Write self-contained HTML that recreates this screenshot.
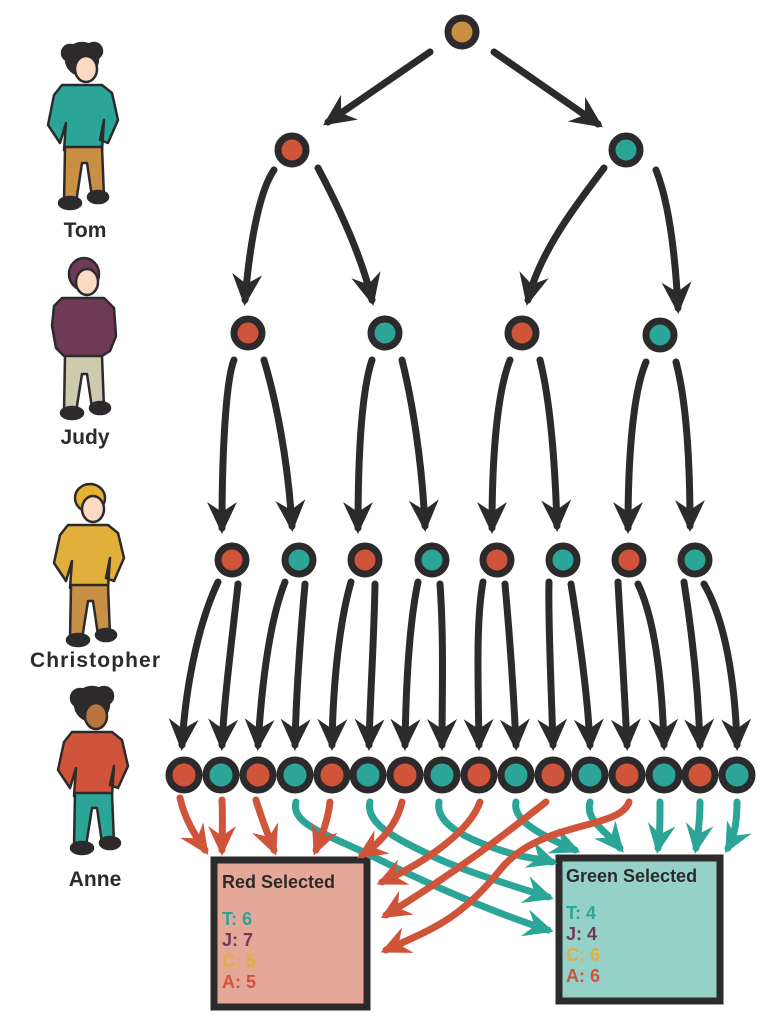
<!DOCTYPE html>
<html><head><meta charset="utf-8"><style>html,body{margin:0;padding:0;background:#fff}svg{display:block}</style></head>
<body>
<svg width="768" height="1024" viewBox="0 0 768 1024" xmlns="http://www.w3.org/2000/svg">
<defs>
<marker id="ad" markerUnits="userSpaceOnUse" markerWidth="38" markerHeight="36" viewBox="-2 -18 38 36" refX="26" refY="0" orient="auto"><path d="M0,-15 L32,0 L0,15 L10,0 Z" fill="#2d2a2b"/></marker>
<marker id="ar" markerUnits="userSpaceOnUse" markerWidth="38" markerHeight="36" viewBox="-2 -18 38 36" refX="24" refY="0" orient="auto"><path d="M0,-14 L30,0 L0,14 L10,0 Z" fill="#d0543a"/></marker>
<marker id="at" markerUnits="userSpaceOnUse" markerWidth="38" markerHeight="36" viewBox="-2 -18 38 36" refX="24" refY="0" orient="auto"><path d="M0,-14 L30,0 L0,14 L10,0 Z" fill="#2aa597"/></marker>
</defs>

<g fill="none" stroke="#2d2a2b" stroke-width="7" stroke-linecap="round" marker-end="url(#ad)">
<path d="M430,52 L328,122"/><path d="M494,52 L598,124"/>
<path d="M274,170 C260,190 250,240 245,300"/><path d="M318,168 C335,200 360,250 372,300"/>
<path d="M604,168 C580,200 540,250 528,300"/><path d="M656,170 C668,200 675,250 678,308"/>
<path d="M234,360 C226,380 222,450 222,528"/><path d="M264,360 C276,400 288,460 292,526"/>
<path d="M372,360 C362,390 358,450 358,528"/><path d="M402,360 C412,400 422,460 425,526"/>
<path d="M510,360 C498,390 492,450 492,528"/><path d="M540,360 C550,400 555,460 557,526"/>
<path d="M646,362 C634,390 628,450 628,528"/><path d="M676,362 C686,400 690,460 690,526"/>
<path d="M218,582 C200,620 186,680 182,745"/><path d="M238,584 C232,640 224,700 222,745"/>
<path d="M285,582 C270,620 262,680 258,745"/><path d="M305,584 C300,640 296,700 295,745"/>
<path d="M351,582 C340,620 333,680 332,745"/><path d="M375,584 C374,640 370,700 369,745"/>
<path d="M418,582 C410,620 406,680 405,745"/><path d="M440,584 C444,640 442,700 442,745"/>
<path d="M483,582 C476,620 478,680 479,745"/><path d="M505,584 C510,640 514,700 516,745"/>
<path d="M549,582 C548,620 551,680 553,745"/><path d="M571,584 C580,640 588,700 590,745"/>
<path d="M618,582 C620,620 624,680 627,745"/><path d="M638,584 C655,620 662,680 664,745"/>
<path d="M684,582 C690,620 698,680 700,745"/><path d="M704,584 C725,620 735,680 737,745"/>
</g>

<g stroke="#2d2a2b" stroke-width="7">
<circle cx="462" cy="32" r="14" fill="#c98f45"/>
<circle cx="292" cy="150" r="14" fill="#d0543a"/><circle cx="626" cy="150" r="14" fill="#2aa597"/>
<circle cx="248" cy="333" r="14" fill="#d0543a"/><circle cx="385" cy="333" r="14" fill="#2aa597"/>
<circle cx="522" cy="333" r="14" fill="#d0543a"/><circle cx="660" cy="335" r="14" fill="#2aa597"/>
<circle cx="232" cy="560" r="14" fill="#d0543a"/><circle cx="299" cy="560" r="14" fill="#2aa597"/>
<circle cx="365" cy="560" r="14" fill="#d0543a"/><circle cx="432" cy="560" r="14" fill="#2aa597"/>
<circle cx="497" cy="560" r="14" fill="#d0543a"/><circle cx="563" cy="560" r="14" fill="#2aa597"/>
<circle cx="629" cy="560" r="14" fill="#d0543a"/><circle cx="695" cy="560" r="14" fill="#2aa597"/>
<circle cx="184" cy="775" r="15" fill="#d0543a"/><circle cx="221" cy="775" r="15" fill="#2aa597"/>
<circle cx="258" cy="775" r="15" fill="#d0543a"/><circle cx="295" cy="775" r="15" fill="#2aa597"/>
<circle cx="332" cy="775" r="15" fill="#d0543a"/><circle cx="368" cy="775" r="15" fill="#2aa597"/>
<circle cx="405" cy="775" r="15" fill="#d0543a"/><circle cx="442" cy="775" r="15" fill="#2aa597"/>
<circle cx="479" cy="775" r="15" fill="#d0543a"/><circle cx="516" cy="775" r="15" fill="#2aa597"/>
<circle cx="553" cy="775" r="15" fill="#d0543a"/><circle cx="590" cy="775" r="15" fill="#2aa597"/>
<circle cx="627" cy="775" r="15" fill="#d0543a"/><circle cx="664" cy="775" r="15" fill="#2aa597"/>
<circle cx="700" cy="775" r="15" fill="#d0543a"/><circle cx="737" cy="775" r="15" fill="#2aa597"/>
</g>

<rect x="214" y="860" width="153" height="147" fill="#e5a898" stroke="#2d2a2b" stroke-width="7"/>
<rect x="559" y="858" width="161" height="143" fill="#96d1c9" stroke="#2d2a2b" stroke-width="7"/>
<g font-family="Liberation Sans, sans-serif" font-weight="bold" font-size="18">
<text x="222" y="888" fill="#2d2a2b">Red Selected</text>
<text x="222" y="925" fill="#2aa597">T: 6</text>
<text x="222" y="946" fill="#6e3a58">J: 7</text>
<text x="222" y="967" fill="#e0b03a">C: 5</text>
<text x="222" y="988" fill="#d0543a">A: 5</text>
<text x="566" y="882" fill="#2d2a2b">Green Selected</text>
<text x="566" y="919" fill="#2aa597">T: 4</text>
<text x="566" y="940" fill="#6e3a58">J: 4</text>
<text x="566" y="961" fill="#e0b03a">C: 6</text>
<text x="566" y="982" fill="#d0543a">A: 6</text>
</g>

<g fill="none" stroke-width="7" stroke-linecap="round">
<g stroke="#2aa597" marker-end="url(#at)">
<path d="M296,802 C290,825 330,835 380,860 S500,915 548,930"/>
<path d="M370,802 C365,825 400,840 430,855 S520,888 548,897"/>
<path d="M439,802 C435,825 470,840 500,850 S540,858 552,862"/>
<path d="M516,802 C512,820 540,835 575,850"/>
<path d="M590,802 C585,820 605,830 620,848"/>
<path d="M660,802 C660,820 660,835 658,848"/>
<path d="M700,802 C700,820 698,835 696,848"/>
<path d="M737,802 C737,820 735,835 728,848"/>
</g>
<g stroke="#d0543a" marker-end="url(#ar)">
<path d="M180,798 C185,820 195,835 205,850"/>
<path d="M222,800 C223,820 222,835 222,850"/>
<path d="M256,800 C262,820 268,835 274,850"/>
<path d="M330,802 C328,820 322,835 316,850"/>
<path d="M402,802 C398,820 385,840 362,855"/>
<path d="M480,802 C470,830 430,860 382,882"/>
<path d="M546,802 C510,830 460,870 386,915"/>
<path d="M629,802 C620,830 540,820 500,870 S430,930 386,950"/>
</g>
</g>

<g stroke="#2d2a2b" stroke-width="2.5" stroke-linejoin="round">
<g transform="translate(82,45)">
<circle cx="0" cy="14" r="16" fill="#2d2a2b"/><circle cx="-12" cy="8" r="8" fill="#2d2a2b"/><circle cx="12" cy="6" r="8" fill="#2d2a2b"/>
<ellipse cx="4" cy="24" rx="11" ry="13" fill="#fbd9c4"/>
<path d="M-20,40 L20,40 L30,48 L36,75 L26,98 L18,95 L22,75 L20,105 L-18,105 L-16,78 L-22,98 L-34,80 L-28,50 Z" fill="#2aa597"/>
<path d="M-17,102 L20,102 L22,152 L10,152 L5,118 L0,118 L-6,158 L-18,158 Z" fill="#c98f45"/>
<ellipse cx="-12" cy="158" rx="11" ry="6" fill="#2d2a2b"/><ellipse cx="16" cy="152" rx="10" ry="6" fill="#2d2a2b"/>
</g>
<g transform="translate(82,256)">
<ellipse cx="2" cy="18" rx="15" ry="16" fill="#6e3a58"/>
<ellipse cx="5" cy="26" rx="11" ry="13" fill="#fbd9c4"/>
<path d="M-20,42 L22,42 L32,52 L34,80 L28,95 L20,100 L-18,100 L-26,92 L-30,70 L-28,50 Z" fill="#6e3a58"/>
<path d="M-17,100 L20,100 L22,152 L10,152 L5,118 L0,118 L-6,156 L-18,156 Z" fill="#cdcbae"/>
<ellipse cx="-10" cy="157" rx="11" ry="6" fill="#2d2a2b"/><ellipse cx="18" cy="152" rx="10" ry="6" fill="#2d2a2b"/>
</g>
<g transform="translate(88,483)">
<ellipse cx="2" cy="15" rx="15" ry="14" fill="#e4b232"/>
<ellipse cx="5" cy="26" rx="11" ry="13" fill="#fbd9c4"/>
<path d="M-20,42 L20,42 L30,50 L36,75 L26,98 L18,95 L22,75 L20,105 L-18,105 L-16,78 L-22,98 L-34,80 L-28,52 Z" fill="#e0b03a"/>
<path d="M-17,102 L20,102 L22,152 L10,152 L5,118 L0,118 L-6,156 L-18,156 Z" fill="#c98f45"/>
<ellipse cx="-10" cy="157" rx="11" ry="6" fill="#2d2a2b"/><ellipse cx="18" cy="152" rx="10" ry="6" fill="#2d2a2b"/>
</g>
<g transform="translate(92,688)">
<circle cx="0" cy="16" r="17" fill="#2d2a2b"/><circle cx="-12" cy="10" r="9" fill="#2d2a2b"/><circle cx="12" cy="8" r="9" fill="#2d2a2b"/>
<ellipse cx="4" cy="28" rx="11" ry="13" fill="#b8763d"/>
<path d="M-20,44 L20,44 L30,52 L36,78 L26,100 L18,97 L22,78 L20,108 L-18,108 L-16,80 L-22,100 L-34,82 L-28,54 Z" fill="#d0543a"/>
<path d="M-17,105 L20,105 L22,155 L10,155 L5,120 L0,120 L-6,158 L-18,158 Z" fill="#2aa597"/>
<ellipse cx="-10" cy="160" rx="11" ry="6" fill="#2d2a2b"/><ellipse cx="18" cy="155" rx="10" ry="6" fill="#2d2a2b"/>
</g>
</g>
<g font-family="Liberation Sans, sans-serif" font-weight="bold" font-size="21" fill="#2d2a2b" text-anchor="middle">
<text x="85" y="237">Tom</text>
<text x="85" y="444">Judy</text>
<text x="95" y="667" textLength="130">Christopher</text>
<text x="95" y="886">Anne</text>
</g>
</svg>
</body></html>
